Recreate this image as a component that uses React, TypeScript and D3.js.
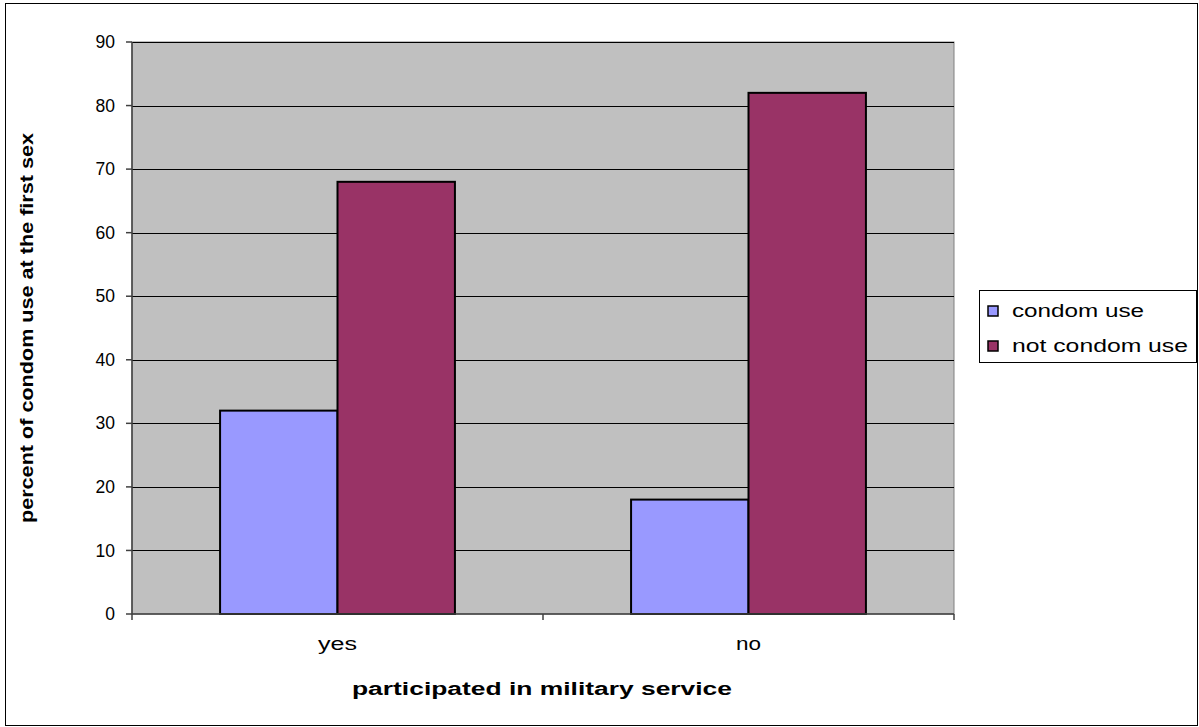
import React from "react";
import * as d3 from "d3";

const categories = ["yes", "no"];
const seriesNames = ["condom use", "not condom use"];
const condomUse = [32, 18];
const notCondomUse = [68, 82];
const yTicks = [0, 10, 20, 30, 40, 50, 60, 70, 80, 90];
const colors = ["#9999ff", "#993366"];

export default function App() {
  const W = 1199, H = 727;
  const left = 132, right = 954, top = 42, bottom = 614;
  const x = d3.scaleBand<string>().domain(categories).range([left, right]).paddingInner(0).paddingOuter(0);
  const y = d3.scaleLinear().domain([0, 90]).range([bottom, top]);
  const bw = x.bandwidth() / 3.5;
  const series = [condomUse, notCondomUse];
  const font = "'Liberation Sans', Arial, sans-serif";
  const catLen = [39, 25];
  const legLen = [132, 176];
  return (
    <svg width={W} height={H} style={{ position: "absolute", left: 0, top: 0 }} fontFamily={font}>
      <rect x={0} y={0} width={W} height={H} fill="#fff" />
      <rect x={5.5} y={3.5} width={1192} height={722} fill="none" stroke="#000" strokeWidth={1} />
      <rect x={left} y={top} width={right - left} height={bottom - top} fill="#c0c0c0" stroke="#808080" strokeWidth={1} />
      {yTicks.filter((t) => t > 0).map((t) => (
        <line key={"g" + t} x1={left} x2={right} y1={Math.round(y(t)) + 0.5} y2={Math.round(y(t)) + 0.5} stroke="#000" strokeWidth={1} />
      ))}
      {categories.map((c, i) =>
        series.map((s, j) => {
          const bx = (x(c) as number) + 0.75 * bw + j * bw;
          return (
            <rect key={c + j} x={bx} y={y(s[i])} width={bw} height={y(0) - y(s[i])} fill={colors[j]} stroke="#000" strokeWidth={2} />
          );
        })
      )}
      <line x1={left} x2={left} y1={top} y2={bottom} stroke="#404040" strokeWidth={1.5} />
      <line x1={left} x2={right} y1={bottom} y2={bottom} stroke="#404040" strokeWidth={1.5} />
      {yTicks.map((t) => (
        <g key={"t" + t}>
          <line x1={left - 6} x2={left} y1={y(t)} y2={y(t)} stroke="#404040" strokeWidth={1.5} />
          <text x={115} y={y(t)} dy="0.35em" textAnchor="end" fontSize={17.5}>{t}</text>
        </g>
      ))}
      {[left, left + x.bandwidth(), right].map((v, i) => (
        <line key={"xt" + i} x1={v} x2={v} y1={bottom} y2={bottom + 6} stroke="#404040" strokeWidth={1.5} />
      ))}
      {categories.map((c, i) => (
        <text key={"xl" + c} x={(x(c) as number) + x.bandwidth() / 2} y={650} textAnchor="middle" fontSize={17.5}
          textLength={catLen[i]} lengthAdjust="spacingAndGlyphs">{c}</text>
      ))}
      <text x={542} y={695} textAnchor="middle" fontSize={17.5} fontWeight="bold" textLength={380} lengthAdjust="spacingAndGlyphs">participated in military service</text>
      <text transform={`translate(33,${(top + bottom) / 2}) rotate(-90)`} textAnchor="middle" fontSize={17.5} fontWeight="bold" textLength={390} lengthAdjust="spacingAndGlyphs">percent of condom use at the first sex</text>
      <rect x={979.5} y={290.5} width={217} height={72} fill="#fff" stroke="#000" strokeWidth={1} />
      {seriesNames.map((n, j) => (
        <g key={"lg" + j}>
          <rect x={988} y={306 + j * 35} width={10} height={10} fill={colors[j]} stroke="#000" strokeWidth={1.5} />
          <text x={1012} y={317 + j * 35} fontSize={17.5} textLength={legLen[j]} lengthAdjust="spacingAndGlyphs">{n}</text>
        </g>
      ))}
    </svg>
  );
}
